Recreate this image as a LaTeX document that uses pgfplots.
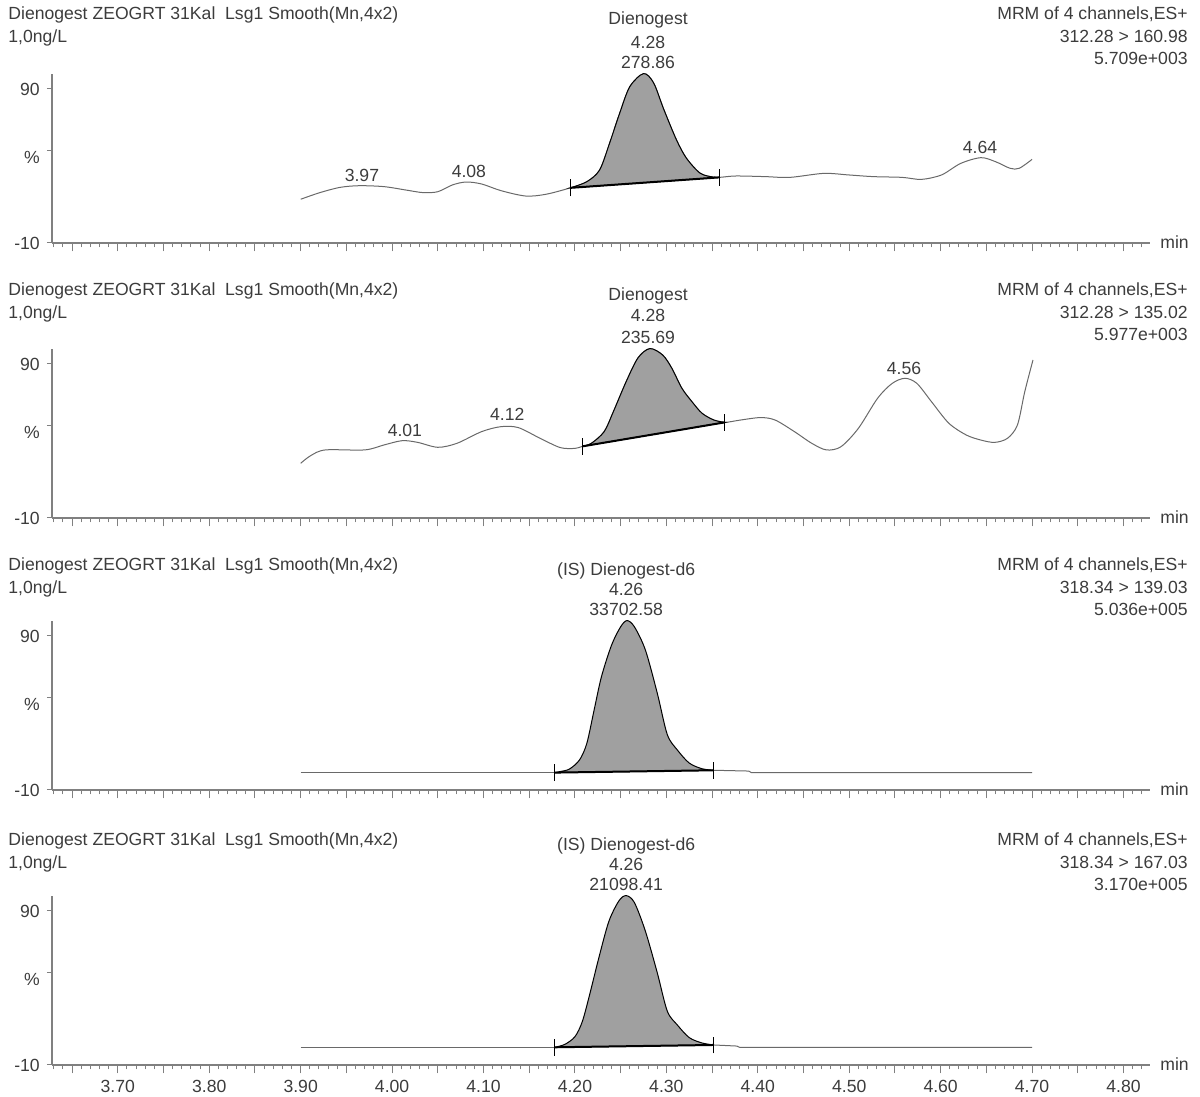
\documentclass[border=0pt]{standalone}
\usepackage{pgfplots}
\pgfplotsset{compat=1.18}
\usepackage{fontspec}
\setmainfont{Liberation Sans}

\definecolor{txt}{RGB}{60,60,60}
\definecolor{axisgray}{RGB}{128,128,128}
\definecolor{trace}{RGB}{105,105,105}
\definecolor{peakfill}{RGB}{160,160,160}
\newcommand{\lbl}{\fontsize{8.8}{10.5}\selectfont}

% one chromatogram trace: retention time (min) against relative intensity (%)
\pgfplotsset{
  chrom/.style={
    scale only axis, width=549pt, height=84.7pt,
    anchor=south west,
    xmin=3.628, xmax=4.829, ymin=-10, ymax=100,
    axis lines*=left, clip=false,
    axis line style={axisgray, line width=1pt},
    tick align=outside,
    tick style={axisgray, line width=0.5pt},
    major tick length=4.2pt, minor tick length=2.2pt,
    xtick={3.65,3.70,3.75,3.80,3.85,3.90,3.95,4.00,4.05,4.10,4.15,4.20,
           4.25,4.30,4.35,4.40,4.45,4.50,4.55,4.60,4.65,4.70,4.75,4.80},
    minor xtick={3.63,3.64,...,4.82},
    xticklabels={},
    ytick=\empty,
    minor ytick={0,10,20,30,40,50,60,70,80,100},
    extra y ticks={-10,50,90},
    extra y tick labels={-10,\raisebox{-6.7pt}[0pt][0pt]{\%},90},
    extra y tick style={major tick length=2.6pt},
    tick label style={font=\lbl, text=txt},
  },
  rt/.style={trace, line width=0.5pt},
  pk/.style={draw=black, line width=0.5pt, fill=peakfill},
  bl/.style={black, line width=1pt},
  bt/.style={black, line width=0.5pt},
}

% header block above each trace
\newcommand{\panelhead}[3]{%
  \node[anchor=base west, font=\lbl, text=txt, inner sep=0pt] at (4pt,#1)
    {Dienogest ZEOGRT 31Kal~~Lsg1 Smooth(Mn,4x2)};
  \node[anchor=base west, font=\lbl, text=txt, inner sep=0pt, yshift=-11.5pt] at (4pt,#1)
    {1,0ng/L};
  \node[anchor=base east, font=\lbl, text=txt, inner sep=0pt] at (594pt,#1)
    {MRM of 4 channels,ES+};
  \node[anchor=base east, font=\lbl, text=txt, inner sep=0pt, yshift=-11.5pt] at (594pt,#1)
    {#2};
  \node[anchor=base east, font=\lbl, text=txt, inner sep=0pt, yshift=-22.5pt] at (594pt,#1)
    {#3};
}
\newcommand{\minlabel}{\node[anchor=base west, font=\lbl, text=txt, inner sep=0pt,
  xshift=5pt, yshift=-3pt] at (rel axis cs:1,0) {min};}
\newcommand{\tag}[3]{\node[anchor=base, font=\lbl, text=txt, inner sep=0pt] at (axis cs:#1,#2) {#3};}

\begin{document}
\begin{tikzpicture}
\useasboundingbox (0pt,0pt) rectangle (600pt,548.5pt);

% ---------------- 312.28 > 160.98 ----------------
\panelhead{538.5pt}{312.28 > 160.98}{5.709e+003}
\begin{axis}[chrom, at={(26pt,427pt)}]
\addplot[rt, smooth] coordinates {
 (3.900,18.4) (3.921,22.7) (3.943,26.1) (3.964,27.2) (3.991,26.6) (4.015,24.4)
 (4.034,22.7) (4.050,23.3) (4.066,27.7) (4.081,29.6) (4.098,28.3) (4.119,24.0)
 (4.146,20.5) (4.168,21.6) (4.195,25.8) (4.213,29.8) (4.227,37.4) (4.238,55.0)
 (4.249,74.4) (4.260,91.5) (4.275,100) (4.286,94.0) (4.297,77.0) (4.311,57.0)
 (4.322,45.0) (4.337,35.3) (4.351,32.8) (4.358,32.6) (4.376,33.5) (4.408,33.1)
 (4.435,32.6) (4.472,35.2) (4.499,34.2) (4.526,33.1) (4.558,32.6) (4.579,31.3)
 (4.601,34.2) (4.622,41.7) (4.644,45.4) (4.660,42.8) (4.676,38.5) (4.686,38.5)
 (4.700,44.3)};
\addplot[pk, smooth] coordinates {
 (4.195,25.8) (4.213,29.8) (4.227,37.4) (4.238,55.0) (4.249,74.4) (4.260,91.5)
 (4.275,100) (4.286,94.0) (4.297,77.0) (4.311,57.0) (4.322,45.0) (4.337,35.3)
 (4.351,32.8) (4.358,32.6)} -- cycle;
\addplot[bl] coordinates {(4.195,25.8) (4.358,32.6)};
\addplot[bt] coordinates {(4.195,20.3) (4.195,31.3)};
\addplot[bt] coordinates {(4.358,27.1) (4.358,38.1)};
\tag{4.28}{131.6}{Dienogest}
\tag{4.28}{116.6}{4.28}
\tag{4.28}{103.6}{278.86}
\tag{3.967}{30.1}{3.97}
\tag{4.084}{32.7}{4.08}
\tag{4.643}{48.2}{4.64}
\minlabel
\end{axis}

% ---------------- 312.28 > 135.02 ----------------
\panelhead{400.5pt}{312.28 > 135.02}{5.977e+003}
\begin{axis}[chrom, at={(26pt,289.5pt)}]
\addplot[rt, smooth] coordinates {
 (3.900,25.5) (3.911,30.5) (3.927,34.2) (3.970,34.2) (3.991,37.4) (4.011,40.2)
 (4.028,39.1) (4.050,35.9) (4.071,38.5) (4.098,46.1) (4.119,49.3) (4.138,48.7)
 (4.162,41.7) (4.184,35.7) (4.200,35.2) (4.208,36.5) (4.218,38.5) (4.232,46.1)
 (4.242,59.0) (4.256,78.5) (4.269,94.0) (4.282,100) (4.296,95.8) (4.306,87.2)
 (4.317,74.2) (4.328,65.5) (4.339,58.0) (4.352,53.6) (4.364,52.1) (4.381,53.6)
 (4.403,55.2) (4.419,53.6) (4.440,46.1) (4.459,38.5) (4.475,34.2) (4.491,36.3)
 (4.510,48.2) (4.531,67.7) (4.547,77.4) (4.561,80.7) (4.574,77.4) (4.590,65.5)
 (4.609,51.5) (4.628,43.9) (4.644,40.6) (4.659,39.1) (4.673,41.7) (4.684,50.4)
 (4.692,72.0) (4.701,92.6)};
\addplot[pk, smooth] coordinates {
 (4.208,36.5) (4.218,38.5) (4.232,46.1) (4.242,59.0) (4.256,78.5) (4.269,94.0)
 (4.282,100) (4.296,95.8) (4.306,87.2) (4.317,74.2) (4.328,65.5) (4.339,58.0)
 (4.352,53.6) (4.364,52.1)} -- cycle;
\addplot[bl] coordinates {(4.208,36.5) (4.364,52.1)};
\addplot[bt] coordinates {(4.208,31.0) (4.208,42.0)};
\addplot[bt] coordinates {(4.364,46.6) (4.364,57.6)};
\tag{4.28}{130.9}{Dienogest}
\tag{4.28}{117.3}{4.28}
\tag{4.28}{103.6}{235.69}
\tag{4.014}{43.0}{4.01}
\tag{4.126}{53.4}{4.12}
\tag{4.560}{83.3}{4.56}
\minlabel
\end{axis}

% ---------------- 318.34 > 139.03 ----------------
\panelhead{263pt}{318.34 > 139.03}{5.036e+005}
\begin{axis}[chrom, at={(26pt,153.5pt)}]
\addplot[rt] coordinates {(3.900,1.3) (4.178,1.3)};
\addplot[rt] coordinates {(4.352,2.8) (4.390,2.3) (4.393,1.3) (4.700,1.3)};
\addplot[pk, smooth] coordinates {
 (4.178,1.3) (4.184,2.0) (4.194,3.6) (4.205,9.5) (4.213,20.3) (4.221,42.0)
 (4.229,63.6) (4.240,84.0) (4.250,96.0) (4.257,100) (4.265,96.0) (4.277,81.0)
 (4.290,53.0) (4.301,26.0) (4.312,16.0) (4.325,7.5) (4.339,3.8) (4.352,2.8)} -- cycle;
\addplot[bl] coordinates {(4.178,1.3) (4.352,2.8)};
\addplot[bt] coordinates {(4.178,-4.3) (4.178,6.9)};
\addplot[bt] coordinates {(4.352,-2.8) (4.352,8.4)};
\tag{4.256}{129.6}{(IS) Dienogest-d6}
\tag{4.256}{116.0}{4.26}
\tag{4.256}{103.0}{33702.58}
\minlabel
\end{axis}

% ---------------- 318.34 > 167.03 ----------------
\panelhead{125.5pt}{318.34 > 167.03}{3.170e+005}
\begin{axis}[chrom, at={(26pt,16pt)},
  xticklabels={,3.70,,3.80,,3.90,,4.00,,4.10,,4.20,,4.30,,4.40,,4.50,,4.60,,4.70,,4.80}]
\addplot[rt] coordinates {(3.900,1.5) (4.178,1.5)};
\addplot[rt] coordinates {(4.352,3.0) (4.377,2.3) (4.380,1.5) (4.700,1.5)};
\addplot[pk, smooth] coordinates {
 (4.178,1.5) (4.189,3.4) (4.200,8.4) (4.208,18.1) (4.216,35.5) (4.226,59.3)
 (4.237,83.1) (4.248,96.5) (4.256,100) (4.265,95.5) (4.277,77.0) (4.290,50.0)
 (4.301,25.0) (4.312,16.0) (4.325,7.8) (4.339,4.3) (4.352,3.0)} -- cycle;
\addplot[bl] coordinates {(4.178,1.5) (4.352,3.0)};
\addplot[bt] coordinates {(4.178,-4.0) (4.178,7.0)};
\addplot[bt] coordinates {(4.352,-2.5) (4.352,8.5)};
\tag{4.256}{129.6}{(IS) Dienogest-d6}
\tag{4.256}{116.0}{4.26}
\tag{4.256}{103.0}{21098.41}
\minlabel
\end{axis}
\end{tikzpicture}
\end{document}
